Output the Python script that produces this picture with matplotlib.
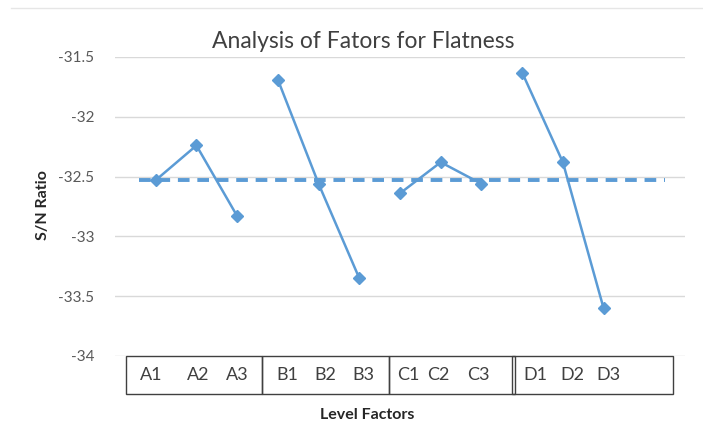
import numpy as np
import matplotlib
matplotlib.use("Agg")
import matplotlib.pyplot as plt
from matplotlib.patches import Rectangle

# S/N ratios, one group of three levels per factor
factors = ["A", "B", "C", "D"]
levels = ["A1", "A2", "A3", "B1", "B2", "B3", "C1", "C2", "C3", "D1", "D2", "D3"]
sn_ratio = [-32.53, -32.24, -32.83, -31.69, -32.56, -33.35,
            -32.64, -32.38, -32.56, -31.63, -32.38, -33.60]
yticks = [-31.5, -32, -32.5, -33, -33.5, -34]

# layout of the level boxes under the axis (in category units)
box_edges = [(0.27, 3.61), (3.61, 6.73), (6.73, 9.83), (9.75, 13.71)]
label_x = [0.9, 2.04, 3.0, 4.23, 5.16, 6.09, 7.2, 7.94, 8.92, 10.32, 11.23, 12.11]

blue = "#5b9bd5"
plt.rcParams["font.family"] = ["Lato", "DejaVu Sans"]

fig = plt.figure(figsize=(7.03, 4.23), dpi=100)
ax = fig.add_axes([0.1636, 0.1584, 0.8108, 0.7069])

x = np.arange(1, len(levels) + 1)
y = np.array(sn_ratio)
for i in range(len(factors)):
    sl = slice(3 * i, 3 * i + 3)
    ax.plot(x[sl], y[sl], color=blue, lw=1.8, marker="D", ms=6.5,
            markeredgecolor=blue, zorder=3)

mean = y.mean()
ax.plot([0.6, 13.5], [mean, mean], color=blue, lw=2.8, ls=(0, (3, 2)), zorder=2)

ax.set_xlim(0, 14)
ax.set_ylim(-34, -31.5)
ax.set_yticks(yticks)
ax.set_yticklabels([f"{t:g}" for t in yticks], color="#595959", fontsize=11)
ax.set_xticks([])
ax.tick_params(axis="y", length=0, pad=15)
ax.grid(axis="y", color="#d9d9d9", lw=1)
for s in ax.spines.values():
    s.set_visible(False)

# boxed level labels below the plot
box_h = 0.32
for x0, x1 in box_edges:
    ax.add_patch(Rectangle((x0, -34 - box_h), x1 - x0, box_h, fill=False,
                           edgecolor="#404040", lw=1, clip_on=False))
for lx, lab in zip(label_x, levels):
    ax.text(lx, -34 - box_h / 2, lab, ha="center", va="center",
            fontsize=13, color="#404040", clip_on=False)

fig.text(363 / 703, 1 - 42 / 423, "Analysis of Fators for Flatness",
         ha="center", va="center", fontsize=16.5, color="#404040")
fig.text(43 / 703, 1 - 205 / 423, "S/N Ratio", rotation=90, ha="center",
         va="center", fontsize=11.5, fontweight="bold", color="#262626")
fig.text(367 / 703, 1 - 415 / 423, "Level Factors", ha="center", va="center",
         fontsize=11.5, fontweight="bold", color="#262626")

# faint chart-area border
fig.add_artist(plt.Line2D([11 / 703, 702 / 703], [1 - 8 / 423, 1 - 8 / 423],
                          color="#e6e6e6", lw=1))

fig.savefig("out.png", dpi=100)
